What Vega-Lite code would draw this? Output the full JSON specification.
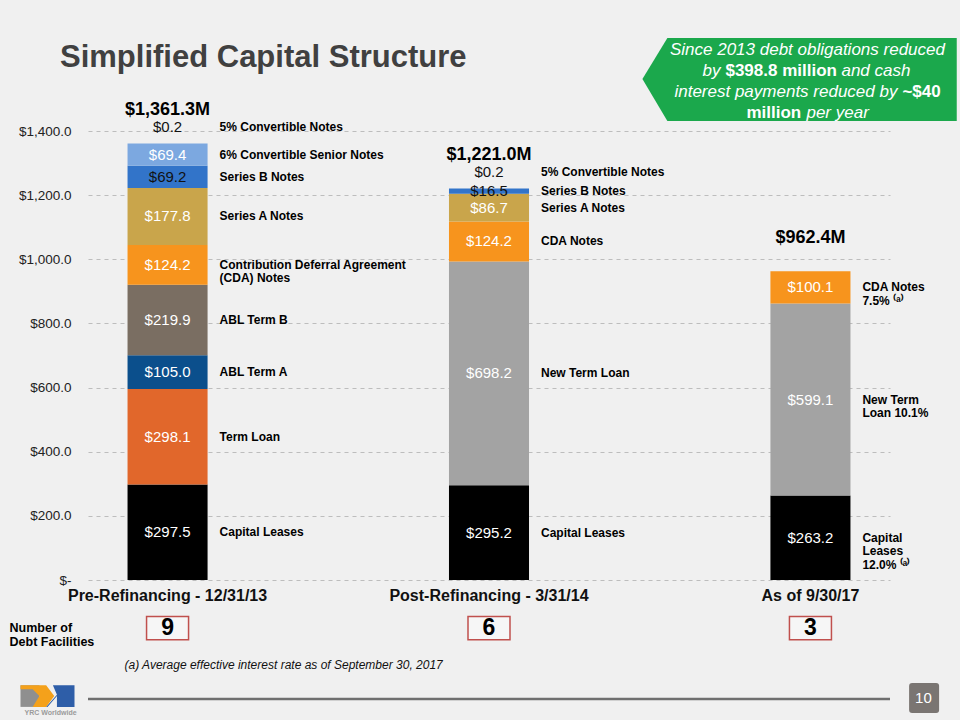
{
  "$schema": "https://vega.github.io/schema/vega-lite/v6.json",
  "width": 802,
  "height": 449,
  "autosize": {"type": "none"},
  "padding": {"left": 88, "top": 131, "right": 70, "bottom": 140},
  "background": "#f0f0f0",
  "title": {
    "text": "Simplified Capital Structure",
    "anchor": "start",
    "frame": "group",
    "dx": -28,
    "offset": -36,
    "fontSize": 31,
    "font": "Liberation Sans",
    "fontWeight": "bold",
    "color": "#404040"
  },
  "config": {
    "view": {"stroke": null},
    "axis": {"grid": false, "domain": false, "ticks": false},
    "axisY": {
      "grid": true,
      "gridDash": [4, 4],
      "gridColor": "#bdbdbd",
      "gridWidth": 1,
      "labelFont": "Liberation Sans Narrow, Arial Narrow, Liberation Sans, sans-serif",
      "labelFontSize": 13.5,
      "labelColor": "#222222",
      "labelPadding": 17
    },
    "axisX": {
      "labelFont": "Liberation Sans Narrow, Arial Narrow, Liberation Sans, sans-serif",
      "labelFontSize": 16,
      "labelFontWeight": "bold",
      "labelColor": "#111111",
      "labelPadding": 7,
      "labelAngle": 0,
      "labelLimit": 400
    }
  },
  "datasets": {
    "debt": [
      {"period": "Pre-Refinancing - 12/31/13", "segment": "Capital Leases", "label": "Capital Leases", "value": 297.5, "order": 1},
      {"period": "Pre-Refinancing - 12/31/13", "segment": "Term Loan", "label": "Term Loan", "value": 298.1, "order": 2},
      {"period": "Pre-Refinancing - 12/31/13", "segment": "ABL Term A", "label": "ABL Term A", "value": 105.0, "order": 3},
      {"period": "Pre-Refinancing - 12/31/13", "segment": "ABL Term B", "label": "ABL Term B", "value": 219.9, "order": 4},
      {"period": "Pre-Refinancing - 12/31/13", "segment": "CDA Notes", "label": "Contribution Deferral Agreement\n(CDA) Notes", "value": 124.2, "order": 5},
      {"period": "Pre-Refinancing - 12/31/13", "segment": "Series A Notes", "label": "Series A Notes", "value": 177.8, "order": 6},
      {"period": "Pre-Refinancing - 12/31/13", "segment": "Series B Notes", "label": "Series B Notes", "value": 69.2, "order": 7},
      {"period": "Pre-Refinancing - 12/31/13", "segment": "6% Convertible Senior Notes", "label": "6% Convertible Senior Notes", "value": 69.4, "order": 8},
      {"period": "Pre-Refinancing - 12/31/13", "segment": "5% Convertible Notes", "label": "5% Convertible Notes", "value": 0.2, "order": 9},
      {"period": "Post-Refinancing - 3/31/14", "segment": "Capital Leases", "label": "Capital Leases", "value": 295.2, "order": 1},
      {"period": "Post-Refinancing - 3/31/14", "segment": "New Term Loan", "label": "New Term Loan", "value": 698.2, "order": 2},
      {"period": "Post-Refinancing - 3/31/14", "segment": "CDA Notes", "label": "CDA Notes", "value": 124.2, "order": 5},
      {"period": "Post-Refinancing - 3/31/14", "segment": "Series A Notes", "label": "Series A Notes", "value": 86.7, "order": 6},
      {"period": "Post-Refinancing - 3/31/14", "segment": "Series B Notes", "label": "Series B Notes", "value": 16.5, "order": 7},
      {"period": "Post-Refinancing - 3/31/14", "segment": "5% Convertible Notes", "label": "5% Convertible Notes", "value": 0.2, "order": 9},
      {"period": "As of 9/30/17", "segment": "Capital Leases", "label": "Capital\nLeases\n12.0% ⁽ᵃ⁾", "value": 263.2, "order": 1},
      {"period": "As of 9/30/17", "segment": "New Term Loan", "label": "New Term\nLoan 10.1%", "value": 599.1, "order": 2},
      {"period": "As of 9/30/17", "segment": "CDA Notes", "label": "CDA Notes\n7.5% ⁽ᵃ⁾", "value": 100.1, "order": 5}
    ],
    "facilities": [
      {"period": "Pre-Refinancing - 12/31/13", "count": 9},
      {"period": "Post-Refinancing - 3/31/14", "count": 6},
      {"period": "As of 9/30/17", "count": 3}
    ],
    "notes": [
      {"heading": "Number of\nDebt Facilities", "footnote": "(a) Average effective interest rate as of September 30, 2017", "page": "10", "company": "YRC Worldwide"}
    ]
  },
  "layer": [
    {
      "data": {"name": "debt"},
      "transform": [
        {"stack": "value", "groupby": ["period"], "sort": [{"field": "order", "order": "ascending"}], "as": ["y0", "y1"]},
        {"calculate": "datum.value < 1 ? datum.y1 + 50 : (datum.y0 + datum.y1) / 2", "as": "labelY"}
      ],
      "layer": [
        {
          "mark": {"type": "bar"},
          "encoding": {
            "x": {
              "field": "period",
              "type": "nominal",
              "title": null,
              "scale": {
                "domain": ["Pre-Refinancing - 12/31/13", "Post-Refinancing - 3/31/14", "As of 9/30/17"],
                "paddingInner": 0.751,
                "paddingOuter": 0.123
              }
            },
            "y": {
              "field": "y0",
              "type": "quantitative",
              "title": null,
              "scale": {"domain": [0, 1400], "nice": false},
              "axis": {
                "values": [0, 200, 400, 600, 800, 1000, 1200, 1400],
                "labelExpr": "datum.value == 0 ? '$-\u2002\u2002\u2002\u2002' : '$' + format(datum.value, ',.1f')"
              }
            },
            "y2": {"field": "y1"},
            "color": {
              "field": "segment",
              "type": "nominal",
              "legend": null,
              "scale": {
                "domain": ["Capital Leases", "Term Loan", "ABL Term A", "ABL Term B", "CDA Notes", "Series A Notes", "Series B Notes", "6% Convertible Senior Notes", "5% Convertible Notes", "New Term Loan"],
                "range": ["#000000", "#E1672B", "#0B4F8C", "#7A6E62", "#F7941D", "#C9A54B", "#3274C9", "#7CA8E0", "#5B9BD5", "#A3A3A3"]
              }
            }
          }
        },
        {
          "mark": {"type": "text", "font": "Liberation Sans Narrow, Arial Narrow, Liberation Sans, sans-serif", "fontSize": 15, "baseline": "middle"},
          "encoding": {
            "x": {"field": "period", "type": "nominal"},
            "y": {"field": "labelY", "type": "quantitative"},
            "text": {"field": "value", "type": "quantitative", "format": "$,.1f"},
            "color": {
              "condition": {"test": "datum.segment == 'Series B Notes' || datum.value < 1", "value": "#111111"},
              "value": "#ffffff"
            }
          }
        },
        {
          "mark": {"type": "text", "font": "Liberation Sans", "fontWeight": "bold", "fontSize": 12, "align": "left", "dx": 52, "baseline": "middle", "lineBreak": "\n", "lineHeight": 13.5, "color": "#000000"},
          "encoding": {
            "x": {"field": "period", "type": "nominal"},
            "y": {"field": "labelY", "type": "quantitative"},
            "text": {"field": "label"}
          }
        }
      ]
    },
    {
      "data": {"name": "debt"},
      "transform": [
        {"aggregate": [{"op": "sum", "field": "value", "as": "total"}], "groupby": ["period"]},
        {"calculate": "'$' + format(datum.total, ',.1f') + 'M'", "as": "totalLabel"}
      ],
      "mark": {"type": "text", "font": "Liberation Sans", "fontWeight": "bold", "fontSize": 18, "dy": -33, "baseline": "middle", "color": "#000000"},
      "encoding": {
        "x": {"field": "period", "type": "nominal"},
        "y": {"field": "total", "type": "quantitative"},
        "text": {"field": "totalLabel"}
      }
    },
    {
      "data": {"name": "facilities"},
      "layer": [
        {
          "mark": {"type": "point", "shape": "M-1,-0.55L1,-0.55L1,0.55L-1,0.55Z", "size": 1764, "filled": true, "fill": "#f6f6f6", "stroke": "#C0504D", "strokeWidth": 1.5, "opacity": 1},
          "encoding": {
            "x": {"field": "period", "type": "nominal"},
            "y": {"datum": -150}
          }
        },
        {
          "mark": {"type": "text", "font": "Liberation Sans", "fontWeight": "bold", "fontSize": 23, "baseline": "middle", "color": "#000000"},
          "encoding": {
            "x": {"field": "period", "type": "nominal"},
            "y": {"datum": -150},
            "text": {"field": "count"}
          }
        }
      ]
    },
    {
      "data": {"name": "notes"},
      "layer": [
        {
          "mark": {"type": "text", "font": "Liberation Sans Narrow, Arial Narrow, Liberation Sans, sans-serif", "fontWeight": "bold", "fontSize": 12.5, "align": "left", "dx": -158, "baseline": "middle", "lineBreak": "\n", "lineHeight": 14, "color": "#000000"},
          "encoding": {
            "x": {"datum": "Pre-Refinancing - 12/31/13", "type": "nominal"},
            "y": {"datum": -150},
            "text": {"field": "heading"}
          }
        },
        {
          "mark": {"type": "text", "font": "Liberation Sans Narrow, Arial Narrow, Liberation Sans, sans-serif", "fontStyle": "italic", "fontSize": 12, "align": "left", "dx": -43, "baseline": "middle", "color": "#111111"},
          "encoding": {
            "x": {"datum": "Pre-Refinancing - 12/31/13", "type": "nominal"},
            "y": {"datum": -265},
            "text": {"field": "footnote"}
          }
        },
        {
          "mark": {"type": "rule", "color": "#6f6f6f", "strokeWidth": 2.5},
          "encoding": {"y": {"datum": -371}}
        },
        {
          "mark": {"type": "point", "shape": "M-0.8,-1L0.8,-1Q1,-1 1,-0.8L1,0.8Q1,1 0.8,1L-0.8,1Q-1,1 -1,0.8L-1,-0.8Q-1,-1 -0.8,-1Z", "size": 900, "filled": true, "color": "#7a7572", "opacity": 1, "strokeWidth": 0},
          "encoding": {
            "x": {"datum": "As of 9/30/17", "type": "nominal", "bandPosition": 1.92},
            "y": {"datum": -368}
          }
        },
        {
          "mark": {"type": "text", "font": "Liberation Sans", "fontSize": 15, "baseline": "middle", "color": "#ffffff", "dx": 113},
          "encoding": {
            "x": {"datum": "As of 9/30/17", "type": "nominal"},
            "y": {"datum": -368},
            "text": {"field": "page"}
          }
        },
        {
          "mark": {"type": "point", "shape": "M-1,-0.4L-0.3,-0.4L-0.3,0.4L-1,0.4Z", "size": 2916, "filled": true, "color": "#8f8f8f", "opacity": 1, "strokeWidth": 0},
          "encoding": {
            "x": {"datum": "Pre-Refinancing - 12/31/13", "type": "nominal", "bandPosition": -1.0},
            "y": {"datum": -362}
          }
        },
        {
          "mark": {"type": "point", "shape": "M-1,-0.4L-0.05,-0.4L0.25,0L-0.05,0.4L-0.55,0.4L-0.3,0L-0.55,-0.25L-1,-0.25Z", "size": 2916, "filled": true, "color": "#F4A11B", "opacity": 1, "strokeWidth": 0},
          "encoding": {
            "x": {"datum": "Pre-Refinancing - 12/31/13", "type": "nominal", "bandPosition": -1.0},
            "y": {"datum": -362}
          }
        },
        {
          "mark": {"type": "point", "shape": "M0.2,-0.4L1,-0.4L1,0.4L0.35,0.4L0.35,0L0.0,0.4L-0.05,0.4L0.35,-0.05Z", "size": 2916, "filled": true, "color": "#2E5EA8", "opacity": 1, "strokeWidth": 0},
          "encoding": {
            "x": {"datum": "Pre-Refinancing - 12/31/13", "type": "nominal", "bandPosition": -1.0},
            "y": {"datum": -362}
          }
        },
        {
          "mark": {"type": "text", "font": "Liberation Sans Narrow, Arial Narrow, Liberation Sans, sans-serif", "fontWeight": "bold", "fontSize": 7, "baseline": "middle", "color": "#9a9a9a", "dx": -117},
          "encoding": {
            "x": {"datum": "Pre-Refinancing - 12/31/13", "type": "nominal"},
            "y": {"datum": -415},
            "text": {"field": "company"}
          }
        },
        {
          "mark": {"type": "point", "shape": "M-1.091,0L-0.929,-0.266L0.95,-0.266L0.95,0.273L-0.929,0.273Z", "size": 94864, "filled": true, "color": "#1BA84C", "opacity": 1, "strokeWidth": 0},
          "encoding": {
            "x": {"datum": "As of 9/30/17", "type": "nominal"},
            "y": {"datum": 1562}
          }
        },
        {
          "mark": {"type": "text", "font": "Liberation Sans", "fontStyle": "italic", "fontSize": 17, "baseline": "middle", "color": "#ffffff", "dx": -3},
          "encoding": {
            "x": {"datum": "As of 9/30/17", "type": "nominal"},
            "y": {"datum": 1653},
            "text": {"value": "Since 2013 debt obligations reduced"}
          }
        },
        {
          "mark": {"type": "text", "font": "Liberation Sans", "fontStyle": "italic", "fontSize": 17, "align": "left", "baseline": "middle", "color": "#ffffff", "dx": -108},
          "encoding": {
            "x": {"datum": "As of 9/30/17", "type": "nominal"},
            "y": {"datum": 1587},
            "text": {"value": "by"}
          }
        },
        {
          "mark": {"type": "text", "font": "Liberation Sans", "fontWeight": "bold", "fontSize": 17, "align": "left", "baseline": "middle", "color": "#ffffff", "dx": -85},
          "encoding": {
            "x": {"datum": "As of 9/30/17", "type": "nominal"},
            "y": {"datum": 1587},
            "text": {"value": "$398.8 million"}
          }
        },
        {
          "mark": {"type": "text", "font": "Liberation Sans", "fontStyle": "italic", "fontSize": 17, "align": "left", "baseline": "middle", "color": "#ffffff", "dx": 31},
          "encoding": {
            "x": {"datum": "As of 9/30/17", "type": "nominal"},
            "y": {"datum": 1587},
            "text": {"value": "and cash"}
          }
        },
        {
          "mark": {"type": "text", "font": "Liberation Sans", "fontStyle": "italic", "fontSize": 17, "align": "left", "baseline": "middle", "color": "#ffffff", "dx": -136},
          "encoding": {
            "x": {"datum": "As of 9/30/17", "type": "nominal"},
            "y": {"datum": 1522},
            "text": {"value": "interest payments reduced by"}
          }
        },
        {
          "mark": {"type": "text", "font": "Liberation Sans", "fontWeight": "bold", "fontSize": 17, "align": "left", "baseline": "middle", "color": "#ffffff", "dx": 92},
          "encoding": {
            "x": {"datum": "As of 9/30/17", "type": "nominal"},
            "y": {"datum": 1522},
            "text": {"value": "~$40"}
          }
        },
        {
          "mark": {"type": "text", "font": "Liberation Sans", "fontWeight": "bold", "fontSize": 17, "align": "left", "baseline": "middle", "color": "#ffffff", "dx": -64},
          "encoding": {
            "x": {"datum": "As of 9/30/17", "type": "nominal"},
            "y": {"datum": 1456},
            "text": {"value": "million"}
          }
        },
        {
          "mark": {"type": "text", "font": "Liberation Sans", "fontStyle": "italic", "fontSize": 17, "align": "left", "baseline": "middle", "color": "#ffffff", "dx": -4},
          "encoding": {
            "x": {"datum": "As of 9/30/17", "type": "nominal"},
            "y": {"datum": 1456},
            "text": {"value": "per year"}
          }
        }
      ]
    }
  ]
}
